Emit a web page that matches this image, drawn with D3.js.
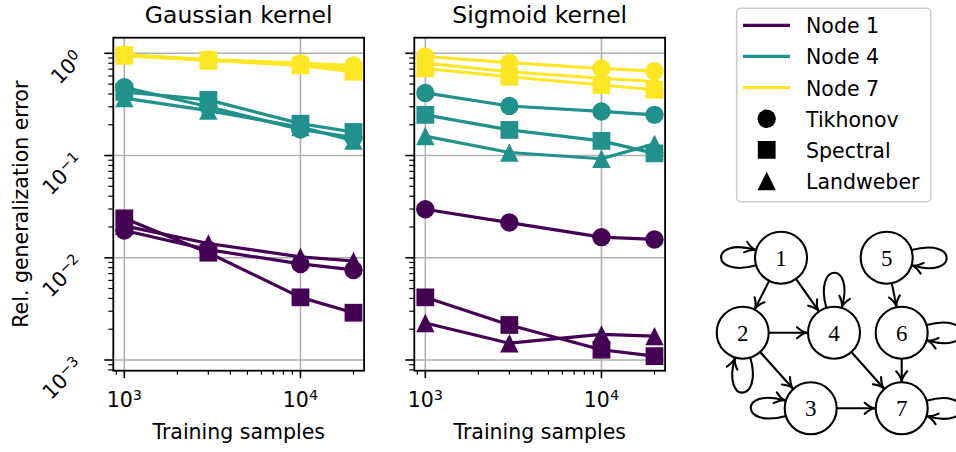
<!DOCTYPE html>
<html><head><meta charset="utf-8">
<script src="https://cdn.jsdelivr.net/npm/d3@7"></script>
<style>
body{margin:0;background:#fff}
svg{display:block}
text{font-family:"DejaVu Sans",sans-serif;fill:#000}
</style>
</head><body>
<svg id="c" width="956" height="452"></svg>
<script>
// ---------------- data ----------------
const samples = [1000, 3000, 10000, 20000];
const nodeNames = ["Node 1", "Node 4", "Node 7"];
const nodeColors = ["#440154", "#21918c", "#fde725"];
const methodNames = ["Tikhonov", "Spectral", "Landweber"];
const kernelTitles = ["Gaussian kernel", "Sigmoid kernel"];
const xMajorTicks = [1000, 10000];
const xTickExponents = ["3", "4"];
const yMajorTicks = [1, 0.1, 0.01, 0.001];
const yTickExponents = ["0", "\u22121", "\u22122", "\u22123"];

// Gaussian kernel
const gaussNode1Tikhonov  = [0.0185, 0.0120, 0.0087, 0.0076];
const gaussNode1Spectral  = [0.0243, 0.0112, 0.0041, 0.0029];
const gaussNode1Landweber = [0.0205, 0.0138, 0.0102, 0.0093];
const gaussNode4Tikhonov  = [0.465, 0.30, 0.180, 0.150];
const gaussNode4Spectral  = [0.42, 0.35, 0.205, 0.170];
const gaussNode4Landweber = [0.365, 0.275, 0.190, 0.140];
const gaussNode7Tikhonov  = [0.97, 0.87, 0.80, 0.76];
const gaussNode7Spectral  = [0.96, 0.86, 0.76, 0.66];
const gaussNode7Landweber = [0.95, 0.85, 0.78, 0.70];
// Sigmoid kernel
const sigNode1Tikhonov  = [0.0298, 0.0221, 0.0159, 0.0151];
const sigNode1Spectral  = [0.0041, 0.0022, 0.00126, 0.00109];
const sigNode1Landweber = [0.0023, 0.00146, 0.00178, 0.00171];
const sigNode4Tikhonov  = [0.41, 0.305, 0.27, 0.25];
const sigNode4Spectral  = [0.25, 0.178, 0.139, 0.105];
const sigNode4Landweber = [0.155, 0.107, 0.093, 0.13];
const sigNode7Tikhonov  = [0.93, 0.81, 0.71, 0.67];
const sigNode7Spectral  = [0.71, 0.59, 0.49, 0.44];
const sigNode7Landweber = [0.80, 0.66, 0.57, 0.53];

const panelSeries = [
  [[gaussNode1Tikhonov, gaussNode1Spectral, gaussNode1Landweber],
   [gaussNode4Tikhonov, gaussNode4Spectral, gaussNode4Landweber],
   [gaussNode7Tikhonov, gaussNode7Spectral, gaussNode7Landweber]],
  [[sigNode1Tikhonov, sigNode1Spectral, sigNode1Landweber],
   [sigNode4Tikhonov, sigNode4Spectral, sigNode4Landweber],
   [sigNode7Tikhonov, sigNode7Spectral, sigNode7Landweber]]
];

// graph diagram
const graphNodes = [
  {id:1, x:781,   y:257.7, loop:180},
  {id:2, x:742.7, y:332.7, loop:90},
  {id:3, x:810.7, y:408.3, loop:180},
  {id:4, x:834,   y:332.7, loop:-90},
  {id:5, x:886.7, y:257.7, loop:0},
  {id:6, x:901.7, y:332.7, loop:0},
  {id:7, x:901.7, y:408.3, loop:0}
];
const graphEdges = [[1,2],[1,4],[2,4],[2,3],[3,7],[4,7],[5,6],[6,7]];

// ---------------- layout ----------------
const svg = d3.select("#c");
const FS = 20.5;
const panelX = [113.3, 414.3];
const panelW = 250.8, panelTop = 37.7, panelH = 333;

const x = d3.scaleLog().domain([865.8, 22980]).range([0, panelW]);
const y = d3.scaleLog().domain([1.421, 7.857e-4]).range([0, panelH]);

const xMinor = [900, 2000, 3000, 4000, 5000, 6000, 7000, 8000, 9000, 20000];
const yMinor = [];
[-4, -3, -2, -1].forEach(d => { for (let k = 2; k <= 9; k++) { const v = k * Math.pow(10, d); if (v > 7.857e-4 && v < 1.421) yMinor.push(v); } });

function markerPath(m, s) {
  if (m === 0) { const p = d3.path(); p.arc(0, 0, s, 0, 2 * Math.PI); return p.toString(); }
  if (m === 1) { const h = s * 0.965; return `M${-h},${-h}H${h}V${h}H${-h}Z`; }
  return `M0,${-s}L${s},${s}L${-s},${s}Z`;
}
const markerSize = 9.2;

panelSeries.forEach((nodesData, pi) => {
  const g = svg.append("g").attr("transform", `translate(${panelX[pi]},${panelTop})`);
  // grid
  g.append("g").selectAll("line").data(xMajorTicks).join("line")
    .attr("x1", d => x(d)).attr("x2", d => x(d)).attr("y1", 0).attr("y2", panelH)
    .attr("stroke", "#b0b0b0").attr("stroke-width", 1.6);
  g.append("g").selectAll("line").data(yMajorTicks).join("line")
    .attr("x1", 0).attr("x2", panelW).attr("y1", d => y(d)).attr("y2", d => y(d))
    .attr("stroke", "#b0b0b0").attr("stroke-width", 1.6);

  // data
  const clipId = "clip" + pi;
  g.append("clipPath").attr("id", clipId).append("rect").attr("width", panelW).attr("height", panelH);
  const dg = g.append("g");
  const line = d3.line().x((d, i) => x(samples[i])).y(d => y(d));
  nodesData.forEach((methodsData, ni) => {
    methodsData.forEach((vals, mi) => {
      dg.append("path").attr("d", line(vals)).attr("fill", "none")
        .attr("stroke", nodeColors[ni]).attr("stroke-width", 3.2)
        .attr("stroke-linejoin", "round").attr("clip-path", `url(#${clipId})`);
      dg.append("g").selectAll("path").data(vals).join("path")
        .attr("transform", (d, i) => `translate(${x(samples[i])},${y(d)})`)
        .attr("d", markerPath(mi, markerSize)).attr("fill", nodeColors[ni]);
    });
  });

  // ticks
  const xAx = g.append("g").attr("transform", `translate(0,${panelH})`);
  xAx.append("g").selectAll("line").data(xMajorTicks).join("line")
    .attr("x1", d => x(d)).attr("x2", d => x(d)).attr("y1", 0).attr("y2", 7.5)
    .attr("stroke", "#000").attr("stroke-width", 1.6);
  xAx.append("g").selectAll("line").data(xMinor).join("line")
    .attr("x1", d => x(d)).attr("x2", d => x(d)).attr("y1", 0).attr("y2", 4)
    .attr("stroke", "#000").attr("stroke-width", 1.2);
  const yAx = g.append("g");
  yAx.append("g").selectAll("line").data(yMajorTicks).join("line")
    .attr("x1", -9).attr("x2", 0).attr("y1", d => y(d)).attr("y2", d => y(d))
    .attr("stroke", "#000").attr("stroke-width", 1.6);
  yAx.append("g").selectAll("line").data(yMinor).join("line")
    .attr("x1", -5).attr("x2", 0).attr("y1", d => y(d)).attr("y2", d => y(d))
    .attr("stroke", "#000").attr("stroke-width", 1.2);

  // x tick labels
  xMajorTicks.forEach((v, i) => {
    const t = g.append("text").attr("x", x(v)).attr("y", panelH + 36)
      .attr("text-anchor", "middle").attr("font-size", FS);
    t.append("tspan").text("10");
    t.append("tspan").attr("font-size", FS * 0.7).attr("dy", -7).text(xTickExponents[i]);
  });
  // y tick labels (left panel only)
  if (pi === 0) {
    yMajorTicks.forEach((v, i) => {
      const t = g.append("text")
        .attr("transform", `translate(${-29},${y(v) + 7}) rotate(-45)`)
        .attr("text-anchor", "end").attr("font-size", FS);
      t.append("tspan").text("10");
      t.append("tspan").attr("font-size", FS * 0.7).attr("dy", -7).text(yTickExponents[i]);
    });
    g.append("text").attr("transform", `translate(${28 - panelX[0]},${panelH / 2}) rotate(-90)`)
      .attr("text-anchor", "middle").attr("font-size", FS).text("Rel. generalization error");
  }

  // spines
  g.append("rect").attr("width", panelW).attr("height", panelH)
    .attr("fill", "none").attr("stroke", "#000").attr("stroke-width", 1.8);

  // title & x label
  g.append("text").attr("x", panelW / 2).attr("y", 23 - panelTop)
    .attr("text-anchor", "middle").attr("font-size", 23.5).text(kernelTitles[pi]);
  g.append("text").attr("x", panelW / 2).attr("y", 439 - panelTop)
    .attr("text-anchor", "middle").attr("font-size", FS).text("Training samples");
});

// ---------------- legend ----------------
const lg = svg.append("g");
lg.append("rect").attr("x", 736.7).attr("y", 8.3).attr("width", 194).attr("height", 193.4)
  .attr("rx", 4).attr("fill", "#fff").attr("stroke", "#cccccc").attr("stroke-width", 1.6);
const legendRows = nodeNames.map((n, i) => ({label: n, type: "line", idx: i}))
  .concat(methodNames.map((m, i) => ({label: m, type: "marker", idx: i})));
legendRows.forEach((r, i) => {
  const base = 33.3 + i * 31.1;
  if (r.type === "line") {
    lg.append("line").attr("x1", 743).attr("x2", 790).attr("y1", base - 8).attr("y2", base - 8)
      .attr("stroke", nodeColors[r.idx]).attr("stroke-width", 3.2);
  } else {
    lg.append("path").attr("transform", `translate(766.7,${base - 7.8})`)
      .attr("d", markerPath(r.idx, markerSize)).attr("fill", "#000");
  }
  lg.append("text").attr("x", 806).attr("y", base).attr("font-size", FS).text(r.label);
});

// ---------------- graph ----------------
const gg = svg.append("g");
const R = 26;
const byId = {};
graphNodes.forEach(n => byId[n.id] = n);
function arrowHead(tip, dir) {
  const L = 10, W = 5.5;
  const n = [-dir[1], dir[0]];
  const b1 = [tip[0] - L * dir[0] + W * n[0], tip[1] - L * dir[1] + W * n[1]];
  const b2 = [tip[0] - L * dir[0] - W * n[0], tip[1] - L * dir[1] - W * n[1]];
  const c1 = [tip[0] - 0.45 * L * dir[0] + 0.12 * W * n[0], tip[1] - 0.45 * L * dir[1] + 0.12 * W * n[1]];
  const c2 = [tip[0] - 0.45 * L * dir[0] - 0.12 * W * n[0], tip[1] - 0.45 * L * dir[1] - 0.12 * W * n[1]];
  return `M${b1}Q${c1} ${tip}Q${c2} ${b2}`;
}
const edgeStyle = s => s.attr("fill", "none").attr("stroke", "#000").attr("stroke-width", 2.1)
  .attr("stroke-linecap", "round").attr("stroke-linejoin", "round");

graphEdges.forEach(([a, b]) => {
  const s = byId[a], t = byId[b];
  const dx = t.x - s.x, dy = t.y - s.y, len = Math.hypot(dx, dy);
  const u = [dx / len, dy / len];
  const p0 = [s.x + R * u[0], s.y + R * u[1]];
  const p1 = [t.x - (R + 1) * u[0], t.y - (R + 1) * u[1]];
  gg.append("path").attr("d", `M${p0}L${p1}`).call(edgeStyle);
  gg.append("path").attr("d", arrowHead(p1, u)).call(edgeStyle);
});
graphNodes.forEach(nd => {
  const th = nd.loop * Math.PI / 180, a = 17 * Math.PI / 180, b = 16 * Math.PI / 180, d = 48;
  const U = ang => [Math.cos(ang), Math.sin(ang)];
  const P0 = [nd.x + R * U(th - a)[0], nd.y + R * U(th - a)[1]];
  const P3 = [nd.x + (R + 1) * U(th + a)[0], nd.y + (R + 1) * U(th + a)[1]];
  const P1 = [P0[0] + d * U(th - b)[0], P0[1] + d * U(th - b)[1]];
  const P2 = [P3[0] + d * U(th + b)[0], P3[1] + d * U(th + b)[1]];
  gg.append("path").attr("d", `M${P0}C${P1} ${P2} ${P3}`).call(edgeStyle);
  const dx = P3[0] - P2[0], dy = P3[1] - P2[1], l = Math.hypot(dx, dy);
  gg.append("path").attr("d", arrowHead(P3, [dx / l, dy / l])).call(edgeStyle);
});
gg.selectAll("circle").data(graphNodes).join("circle")
  .attr("cx", d => d.x).attr("cy", d => d.y).attr("r", R)
  .attr("fill", "#fff").attr("stroke", "#000").attr("stroke-width", 2.1);
gg.selectAll("text").data(graphNodes).join("text")
  .attr("x", d => d.x).attr("y", d => d.y + 8)
  .attr("text-anchor", "middle").attr("font-size", 23)
  .style("font-family", "'Liberation Serif','DejaVu Serif',serif").text(d => d.id);
</script>
</body></html>
